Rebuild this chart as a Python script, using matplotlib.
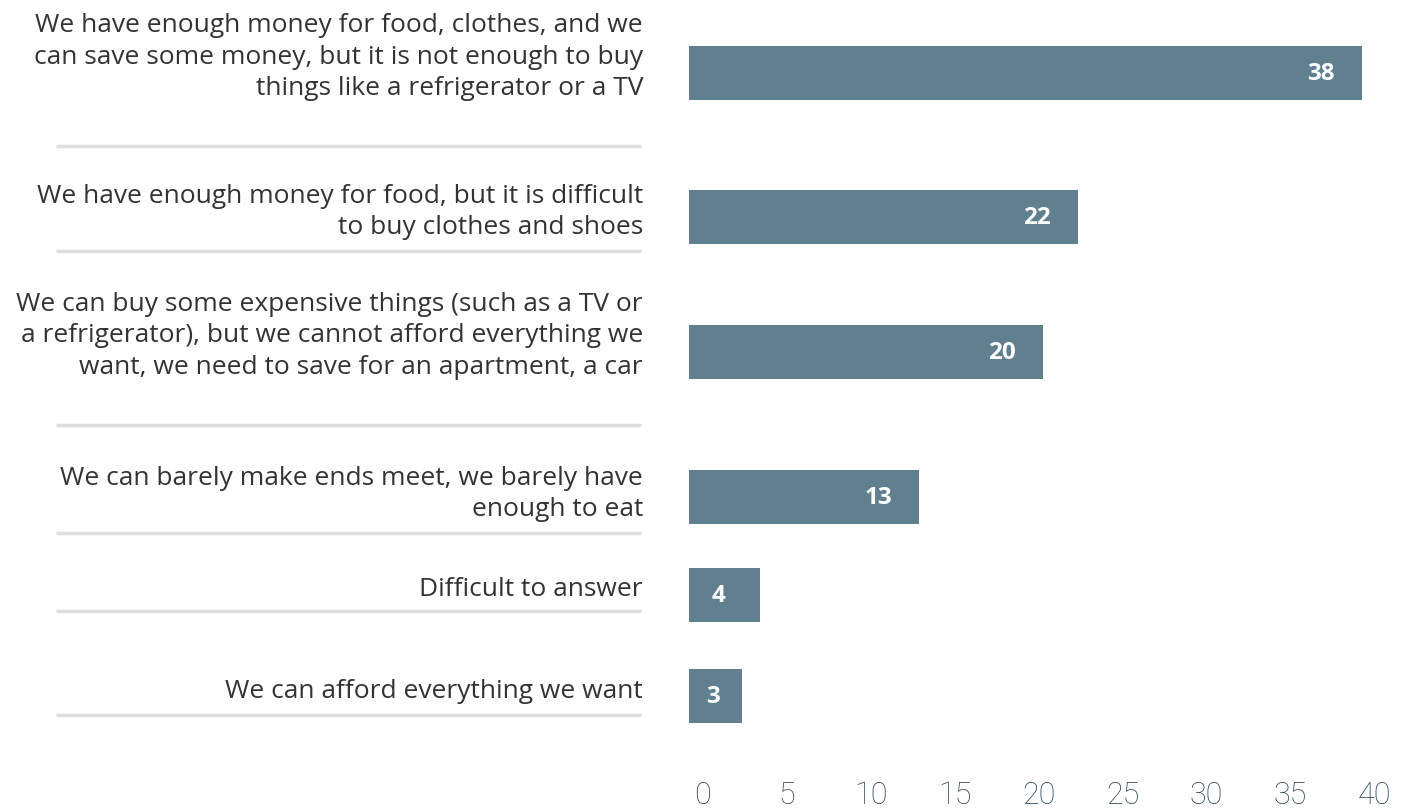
import matplotlib.pyplot as plt
from matplotlib.transforms import blended_transform_factory

# Antal procent pr. svarkategori
categories = [
    "We have enough money for food, clothes, and we\ncan save some money, but it is not enough to buy\nthings like a refrigerator or a TV",
    "We have enough money for food, but it is difficult\nto buy clothes and shoes",
    "We can buy some expensive things (such as a TV or\na refrigerator), but we cannot afford everything we\nwant, we need to save for an apartment, a car",
    "We can barely make ends meet, we barely have\nenough to eat",
    "Difficult to answer",
    "We can afford everything we want",
]
values = [38, 22, 20, 13, 4, 3]
ticks = [0, 5, 10, 15, 20, 25, 30, 35, 40]

# Layout i pixels (raekkernes midte, labelens midte, skillelinje)
bar_y = [73, 217, 352, 497, 595, 696]
label_y = [57, 212, 336, 494, 589, 692]
sep_y = [146, 251, 425, 533, 611, 715]

W, H = 1411, 808
bar_color = "#61808f"

fig = plt.figure(figsize=(W / 100, H / 100), dpi=100)
ax = fig.add_axes([689 / W, (H - 770) / H, (1397 - 689) / W, 770 / H])
ax.set_xlim(0, 40)
ax.set_ylim(770, 0)

ax.barh(bar_y, values, height=54, color=bar_color)

# Vaerdier inde i soejlerne
px_per = 708 / 40
for v, y in zip(values, bar_y):
    xpix = max(689 + v * px_per - 41, 713)
    xd = (xpix - 689) / px_per
    ax.text(xd, y + 1, str(v), color="white", ha="center", va="center",
            fontsize=17.5, fontweight="bold", family=["Open Sans", "DejaVu Sans"])

# Kategorier og skillelinjer til venstre
tr = blended_transform_factory(fig.transFigure, ax.transData)
for lab, ly, sy in zip(categories, label_y, sep_y):
    ax.text(643 / W, ly, lab, transform=tr, ha="right", va="center",
            fontsize=19, color="#333333", family="Open Sans", linespacing=1.36,
            clip_on=False)
    ax.plot([56 / W, 641 / W], [sy, sy], transform=tr, color="#dddddd",
            lw=2.5, clip_on=False, solid_capstyle="butt")

for s in ax.spines.values():
    s.set_visible(False)
ax.set_yticks([])
ax.set_xticks([])

# Akse-etiketter, lidt sammenpresset som i originalen
def fwd(x):
    return (x - 14 / px_per) / (16.78 / px_per)
def inv(v):
    return v * (16.78 / px_per) + 14 / px_per
sec = ax.secondary_xaxis("bottom", functions=(fwd, inv))
sec.set_xticks(ticks)
sec.set_xticklabels([str(t) for t in ticks], fontsize=22, color="#2e4659",
                    family=["Roboto", "DejaVu Sans"], fontweight="light")
sec.tick_params(length=0, pad=8)
sec.spines["bottom"].set_visible(False)

fig.savefig("out.png", dpi=100)
